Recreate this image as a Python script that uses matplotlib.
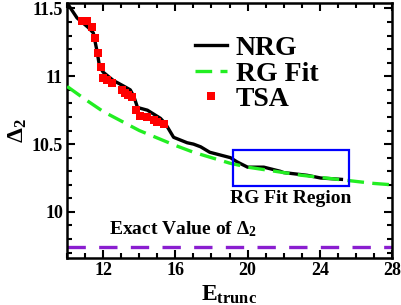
import matplotlib
matplotlib.use("Agg")
import matplotlib.pyplot as plt
from matplotlib.patches import Rectangle
from matplotlib.ticker import MultipleLocator, FormatStrFormatter

plt.rcParams["font.family"] = ["Liberation Serif", "DejaVu Serif"]
plt.rcParams["font.weight"] = "bold"
plt.rcParams["mathtext.default"] = "regular"

# NRG curve
nrg_x = [10.0, 10.55, 11.17, 11.45, 11.65, 11.8, 12.0, 12.55, 13.1, 13.5, 13.7,
         13.9, 14.45, 15.17, 15.45, 15.9, 16.65, 17.0, 17.4, 17.9, 19.05, 19.4,
         20.0, 20.9, 21.8, 22.0, 23.3, 24.05, 25.2]
nrg_y = [11.54, 11.43, 11.36, 11.32, 11.19, 11.07, 11.03, 10.97, 10.93, 10.90, 10.85,
         10.77, 10.75, 10.69, 10.65, 10.55, 10.51, 10.50, 10.48, 10.44, 10.40, 10.37,
         10.33, 10.33, 10.30, 10.29, 10.27, 10.25, 10.24]

# RG fit curve
fit_x = [10, 11, 12, 13, 14, 15, 16, 17, 18, 19, 20, 21, 22, 23, 24, 25, 26, 27, 28]
fit_y = [10.925, 10.83, 10.74, 10.67, 10.60, 10.545, 10.49, 10.44, 10.40, 10.36,
         10.33, 10.31, 10.29, 10.27, 10.255, 10.24, 10.225, 10.21, 10.20]

# TSA points
tsa_x = [10.8, 11.1, 11.4, 11.55, 11.7, 11.85, 12.0, 12.2, 12.5, 13.05, 13.2, 13.4,
         13.6, 13.8, 14.05, 14.4, 14.8, 15.0, 15.35]
tsa_y = [11.41, 11.41, 11.36, 11.28, 11.17, 11.07, 10.99, 10.97, 10.95, 10.90, 10.88,
         10.86, 10.85, 10.75, 10.71, 10.70, 10.68, 10.66, 10.65]

exact_value = 9.74
fit_region = (19.2, 10.19, 25.6, 10.46)

fig = plt.figure(figsize=(4.02, 3.05), dpi=100)
ax = fig.add_axes([0.167, 0.154, 0.808, 0.836])

ax.plot(nrg_x, nrg_y, color="black", lw=2.4, label="NRG", zorder=2)
ax.plot(fit_x, fit_y, color="#22ee22", lw=2.4, ls=(0, (5, 2.5)), label="RG Fit", zorder=3)
ax.plot(tsa_x, tsa_y, ls="none", marker="s", ms=6, color="red", mew=0,
        label="TSA", zorder=4)
ax.axhline(exact_value, color="#8a1ed0", lw=2.4, ls=(0, (5.5, 4)), zorder=2)

x0, y0, x1, y1 = fit_region
ax.add_patch(Rectangle((x0, y0), x1 - x0, y1 - y0, fill=False,
                       edgecolor="blue", lw=1.6, zorder=5))
ax.text((x0 + x1) / 2, y0 - 0.025, "RG Fit Region", ha="center", va="top",
        fontsize=14, fontweight="bold")
ax.text(12.3, 9.8, r"Exact Value of $\Delta_2$", ha="left", va="bottom",
        fontsize=14, fontweight="bold")

ax.set_xlim(10, 28)
ax.set_ylim(9.66, 11.54)
ax.xaxis.set_major_locator(MultipleLocator(4))
ax.xaxis.set_minor_locator(MultipleLocator(1))
ax.yaxis.set_major_locator(MultipleLocator(0.5))
ax.yaxis.set_minor_locator(MultipleLocator(0.1))
ax.yaxis.set_major_formatter(FormatStrFormatter("%g"))
ax.tick_params(which="both", direction="in", top=True, right=True, width=1.5,
               labelsize=13, pad=3)
ax.tick_params(which="major", length=6)
ax.tick_params(which="minor", length=3.5)
for s in ax.spines.values():
    s.set_linewidth(1.8)

ax.set_xlabel(r"E$_{trunc}$", fontsize=17, fontweight="bold", labelpad=2)
ax.xaxis.set_label_coords(0.5, -0.1)
ax.set_ylabel(r"$\Delta_2$", fontsize=17, fontweight="bold", labelpad=2)

ax.legend(loc="upper left", bbox_to_anchor=(0.395, 0.872), frameon=False,
          fontsize=20, handlelength=1.15, handletextpad=0.3, labelspacing=0.0,
          borderpad=0, borderaxespad=0, markerscale=0.9)

fig.savefig("out.png", dpi=100)
